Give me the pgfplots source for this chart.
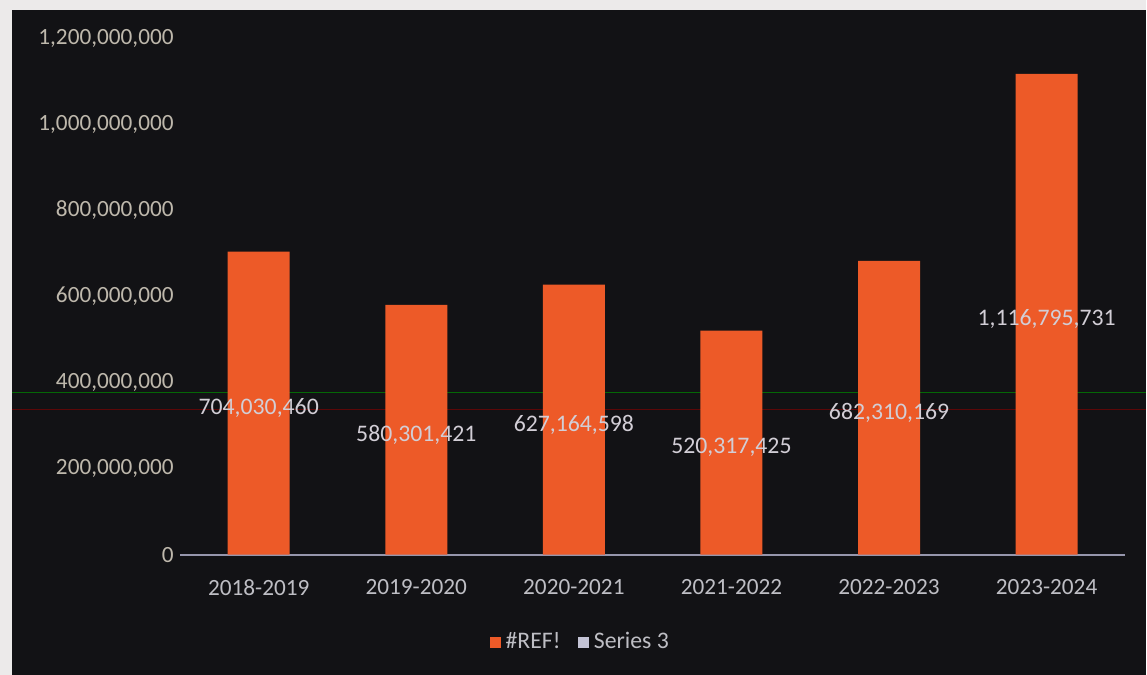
\documentclass[border=0pt]{standalone}
\usepackage{pgfplots}
\pgfplotsset{compat=1.18}
\usepackage{pgfplotstable}
\usepackage{fontspec}
\setmainfont{Carlito}
\definecolor{bgdark}{RGB}{18,18,21}
\definecolor{paper}{RGB}{236,234,234}
\definecolor{barorange}{RGB}{237,90,40}
\definecolor{serthree}{RGB}{196,196,214}
\definecolor{ticky}{RGB}{190,184,172}
\definecolor{tickx}{RGB}{190,190,196}
\definecolor{lbl}{RGB}{210,206,214}
\definecolor{axisline}{RGB}{150,150,172}
\pgfplotsset{sqlegend/.style={legend image code/.code={\fill[##1] (0pt,-2.2pt) rectangle (4.4pt,2.2pt);}}}

\pgfplotstableread{
x v label
0 704030460 704,030,460
1 580301421 580,301,421
2 627164598 627,164,598
3 520317425 520,317,425
4 682310169 682,310,169
5 1116795731 1,116,795,731
}\data

\begin{document}
\begin{tikzpicture}
\fill[paper] (0pt,0pt) rectangle (458.8pt,270pt);
\fill[bgdark] (4.8pt,0pt) rectangle (458.8pt,266pt);
\draw[green!55!black, opacity=0.7, line width=0.5pt] (4.8pt,112.8pt) -- (458.8pt,112.8pt);
\draw[red!55!black, opacity=0.6, line width=0.4pt] (4.8pt,106pt) -- (458.8pt,106pt);
\begin{axis}[
  at={(72pt,48pt)}, anchor=south west,
  scale only axis, width=378.4pt, height=206.8pt,
  xmin=-0.5, xmax=5.5, ymin=0, ymax=1.2e9,
  clip=false,
  axis x line=bottom, axis y line=left,
  axis line style={-},
  y axis line style={draw=none},
  x axis line style={axisline, line width=0.8pt},
  major tick length=0pt,
  xtick={0,1,2,3,4,5},
  xticklabels={2018-2019,2019-2020,2020-2021,2021-2022,2022-2023,2023-2024},
  ytick={0,2e8,4e8,6e8,8e8,1e9,1.2e9},
  scaled y ticks=false,
  /pgf/number format/fixed,
  /pgf/number format/precision=0,
  /pgf/number format/1000 sep={,},
  /pgf/number format/assume math mode=true,
  ticklabel style={font=\fontsize{9.3}{11}\selectfont},
  yticklabel style={text=ticky, xshift=1pt},
  xticklabel style={text=tickx, yshift=-6.5pt},
  legend style={at={(0.425,-0.17)}, anchor=center, legend columns=2,
    draw=none, fill=none, text=tickx, font=\fontsize{9.5}{11}\selectfont,
    /tikz/every even column/.append style={column sep=5pt}},
]
\addplot[ybar, bar width=24.8pt, bar shift=0pt, fill=barorange, draw=none, sqlegend]
  table[x=x,y=v]{\data};
\addlegendentry{\#REF!}
\addlegendimage{fill=serthree, draw=none, sqlegend}
\addlegendentry{Series 3}
\addplot[draw=none, mark=none, forget plot,
  point meta=explicit symbolic,
  nodes near coords={\pgfplotspointmeta},
  every node near coord/.append style={anchor=center, text=lbl, yshift=-2pt,
    font=\fontsize{9.5}{11}\selectfont}]
  table[x=x, y expr=\thisrow{v}/2, meta=label]{\data};
\end{axis}
\end{tikzpicture}
\end{document}
